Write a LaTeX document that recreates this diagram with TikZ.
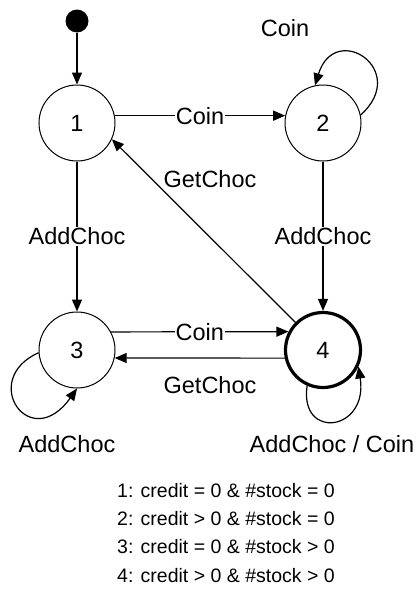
\documentclass[tikz,border=0pt]{standalone}
\usepackage{fontspec}
\setmainfont{Liberation Sans}
\usetikzlibrary{arrows.meta}
\begin{document}
\begin{tikzpicture}[x=1pt,y=-1pt,
  state/.style={circle, draw, line width=1pt, minimum size=76pt, inner sep=0pt, font=\fontsize{23.5}{28}\selectfont},
  finalstate/.style={state, line width=3.2pt, minimum size=75pt},
  initstate/.style={circle, fill=black, minimum size=23pt, inner sep=0pt},
  edge/.style={line width=1.2pt, -{Triangle[length=12pt,width=10pt]}},
  lbl/.style={font=\fontsize{23.5}{28}\selectfont, inner sep=1pt},
  onlbl/.style={lbl, fill=white},
  txt/.style={font=\fontsize{19.5}{24}\selectfont, anchor=base west, inner sep=0pt}]
\useasboundingbox (0,0) rectangle (419,589);

\node[initstate] (init) at (77,21) {};
\node[state] (n1) at (77,123) {1};
\node[state] (n2) at (323,123) {2};
\node[state] (n3) at (77,350) {3};
\node[finalstate] (n4) at (323,350) {4};

\draw[edge] (init) -- (n1);
\draw[edge] (n1.11) -- node[onlbl] (lc12) {Coin} (n2.169);
\draw[edge] (n1) -- node[onlbl] (la13) {AddChoc} (n3);
\draw[edge] (n2) -- node[onlbl] (la24) {AddChoc} (n4);
\draw[edge] (n4.135) -- (n1.-25);
\node[lbl] (lg41) at (210,179) {GetChoc};
\draw[edge] (n3.28) -- node[onlbl] (lc34) {Coin} (n4.152);
\draw[edge] (n4.192) -- (n3.-12);
\node[lbl] (lg43) at (210,385) {GetChoc};

\draw[edge] (n2.12) .. controls +(50,-45) and +(20,-65) .. (n2.102);
\draw[edge] (n3.184) .. controls +(-60,27) and +(-47,66) .. (n3.270);
\draw[edge] (n4.246) .. controls +(-8,55) and +(10,65) .. (n4.-25);

\node[lbl] (lcoin2) at (285,28) {Coin};
\node[lbl] (ladd3) at (67,444) {AddChoc};
\node[lbl] (ladd4) at (332,444) {AddChoc / Coin};

\node[txt] (t1) at (117,497) {1: credit = 0 \& \#stock = 0};
\node[txt] (t2) at (117,525.3) {2: credit > 0 \& \#stock = 0};
\node[txt] (t3) at (117,553.6) {3: credit = 0 \& \#stock > 0};
\node[txt] (t4) at (117,582) {4: credit > 0 \& \#stock > 0};
\end{tikzpicture}
\end{document}
